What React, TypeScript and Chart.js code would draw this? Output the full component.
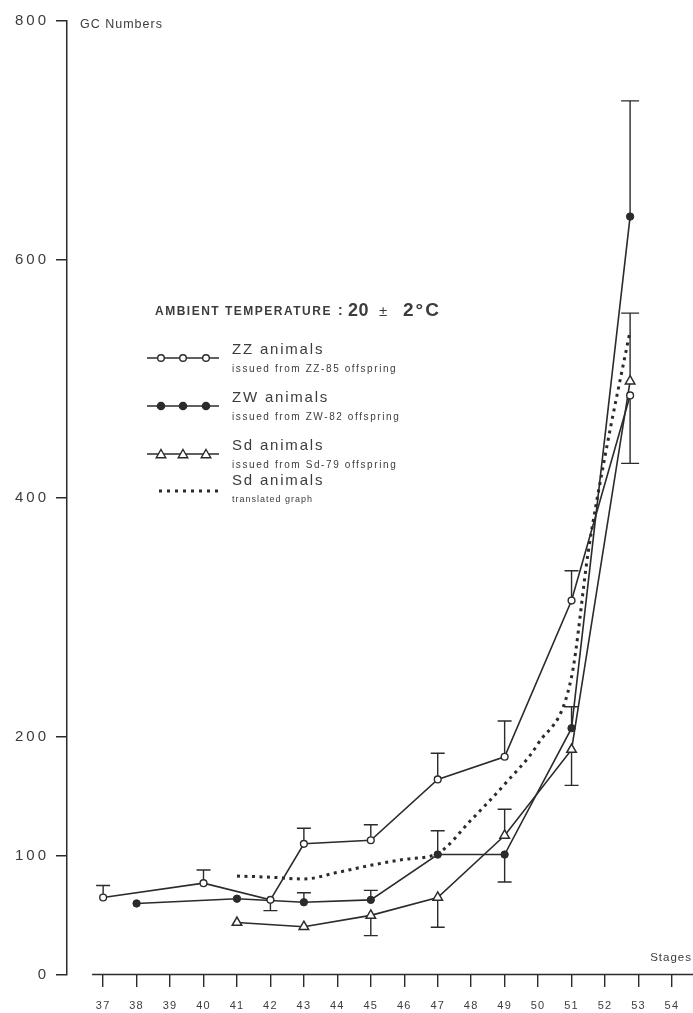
import { useEffect, useRef } from 'react';
import { Chart, registerables } from 'chart.js';

Chart.register(...registerables);

// ---- data ----
const stageTicks = [37, 38, 39, 40, 41, 42, 43, 44, 45, 46, 47, 48, 49, 50, 51, 52, 53, 54];
const gcTicks = [0, 100, 200, 400, 600, 800];

const zzStages = [37, 40, 42, 43, 45, 47, 49, 51, 52.75];
const zzValues = [65, 77, 63, 110, 113, 164, 183, 314, 486];
const zzErrors = [10, 11, -9, 13, 13, 22, 30, 25, -57];

const zwStages = [38, 41, 43, 45, 47, 49, 51, 52.75];
const zwValues = [60, 64, 61, 63, 101, 101, 207, 636];
const zwErrors = [0, 0, 8, 8, 20, -23, 18, 97];

const sdStages = [41, 43, 45, 47, 49, 51, 52.75];
const sdValues = [44, 40.5, 50, 65, 117, 189, 498];
const sdErrors = [0, 0, -17, -25, 22, -30, 57];

const sdTransStages = [41, 42, 43, 44, 45, 46, 47, 48, 49, 50, 51, 51.5, 52, 52.75];
const sdTransValues = [83, 82, 80.5, 86, 92, 97, 102, 130, 160, 194, 250, 355, 435, 540];

const INK = '#2b2b2b';
const TEXT = '#3c3c3c';
const FONT = "'Liberation Sans', Arial, Helvetica, sans-serif";

const toPoints = (xs: number[], ys: number[]) => xs.map((x, i) => ({ x, y: ys[i] }));

const errorSets = [
  { stages: zzStages, values: zzValues, errors: zzErrors },
  { stages: zwStages, values: zwValues, errors: zwErrors },
  { stages: sdStages, values: sdValues, errors: sdErrors },
];

const legendRows = [
  { title: 'ZZ animals', sub: 'issued from ZZ-85 offspring', kind: 'open' },
  { title: 'ZW animals', sub: 'issued from ZW-82 offspring', kind: 'filled' },
  { title: 'Sd animals', sub: 'issued from Sd-79 offspring', kind: 'triangle' },
  { title: 'Sd animals', sub: 'translated graph', kind: 'dots' },
];

function text(ctx: CanvasRenderingContext2D, s: string, x: number, y: number, font: string, ls: number, align: CanvasTextAlign = 'left') {
  ctx.save();
  ctx.font = font;
  (ctx as any).letterSpacing = ls + 'px';
  ctx.fillStyle = TEXT;
  ctx.textAlign = align;
  ctx.textBaseline = 'alphabetic';
  ctx.fillText(s, x, y);
  ctx.restore();
}

function marker(ctx: CanvasRenderingContext2D, kind: string, x: number, y: number) {
  ctx.save();
  ctx.strokeStyle = INK;
  ctx.lineWidth = 1.4;
  ctx.beginPath();
  if (kind === 'triangle') {
    const r = 5.5;
    ctx.moveTo(x, y - r);
    ctx.lineTo(x + r * 0.866, y + r / 2);
    ctx.lineTo(x - r * 0.866, y + r / 2);
    ctx.closePath();
    ctx.fillStyle = '#fff';
  } else {
    ctx.arc(x, y, kind === 'filled' ? 3.6 : 3.3, 0, Math.PI * 2);
    ctx.fillStyle = kind === 'filled' ? INK : '#fff';
  }
  ctx.fill();
  ctx.stroke();
  ctx.restore();
}

const decorPlugin = {
  id: 'decor',
  beforeDraw(chart: any) {
    (chart.ctx as any).letterSpacing = '3px';
  },
  beforeDatasetsDraw(chart: any) {
    const ctx = chart.ctx as CanvasRenderingContext2D;
    const xs = chart.scales.x;
    const ys = chart.scales.y;
    ctx.save();
    // x axis line (separate from the y axis)
    ctx.strokeStyle = INK;
    ctx.lineWidth = 1.5;
    ctx.beginPath();
    ctx.moveTo(xs.getPixelForValue(36.67), chart.chartArea.bottom - 0.5);
    ctx.lineTo(chart.width, chart.chartArea.bottom - 0.5);
    ctx.stroke();
    // error bars
    ctx.lineWidth = 1.4;
    errorSets.forEach((s) => {
      s.errors.forEach((e, i) => {
        if (!e) return;
        const px = xs.getPixelForValue(s.stages[i]);
        const p0 = ys.getPixelForValue(s.values[i]);
        const p1 = ys.getPixelForValue(s.values[i] + e);
        const half = s.stages[i] > 52 ? 9 : 7;
        ctx.beginPath();
        ctx.moveTo(px, p0);
        ctx.lineTo(px, p1);
        ctx.moveTo(px - half, p1);
        ctx.lineTo(px + half, p1);
        ctx.stroke();
      });
    });
    ctx.restore();
  },
  afterDatasetsDraw(chart: any) {
    (chart.ctx as any).letterSpacing = '1.2px';
  },
  afterDraw(chart: any) {
    const ctx = chart.ctx as CanvasRenderingContext2D;
    (ctx as any).letterSpacing = '0px';
    text(ctx, 'GC Numbers', 80, 28, `12.5px ${FONT}`, 1);
    text(ctx, 'Stages', 692, 961, `11.5px ${FONT}`, 1, 'right');

    // legend heading
    text(ctx, 'AMBIENT TEMPERATURE', 155, 315, `bold 12px ${FONT}`, 1.5);
    text(ctx, ':', 338, 315, `bold 14px ${FONT}`, 0);
    text(ctx, '20', 348, 316, `bold 18px ${FONT}`, 0.5);
    text(ctx, '\u00b1', 379, 316, `15px ${FONT}`, 0);
    text(ctx, '2\u00b0C', 403, 316, `bold 19px ${FONT}`, 2);

    const lineYs = [358, 406, 454, 491];
    legendRows.forEach((r, i) => {
      const ly = lineYs[i];
      ctx.save();
      ctx.strokeStyle = INK;
      if (r.kind === 'dots') {
        ctx.lineWidth = 3;
        ctx.setLineDash([3, 5]);
        ctx.beginPath();
        ctx.moveTo(159, ly);
        ctx.lineTo(220, ly);
        ctx.stroke();
      } else {
        ctx.lineWidth = 1.5;
        ctx.beginPath();
        ctx.moveTo(147, ly);
        ctx.lineTo(219, ly);
        ctx.stroke();
      }
      ctx.restore();
      if (r.kind !== 'dots') {
        [161, 183, 206].forEach((mx) => marker(ctx, r.kind, mx, ly + (r.kind === 'triangle' ? 1 : 0)));
      }
      const titleY = r.kind === 'dots' ? ly - 6 : ly - 4;
      text(ctx, r.title, 232, titleY, `15px ${FONT}`, 1.8);
      text(ctx, r.sub, 232, titleY + (r.kind === 'dots' ? 17 : 18), r.kind === 'dots' ? `9px ${FONT}` : `10px ${FONT}`, r.kind === 'dots' ? 1 : 1.6);
    });
  },
};

export default function App() {
  const ref = useRef<HTMLCanvasElement | null>(null);

  useEffect(() => {
    if (!ref.current) return;
    const chart = new Chart(ref.current, {
      type: 'line',
      data: {
        datasets: [
          {
            label: 'ZZ animals',
            data: toPoints(zzStages, zzValues),
            borderColor: INK,
            borderWidth: 1.6,
            pointStyle: 'circle',
            pointRadius: 3.4,
            pointBorderWidth: 1.4,
            pointBackgroundColor: '#fff',
            pointBorderColor: INK,
            tension: 0,
          },
          {
            label: 'ZW animals',
            data: toPoints(zwStages, zwValues),
            borderColor: INK,
            borderWidth: 1.6,
            pointStyle: 'circle',
            pointRadius: 3.7,
            pointBorderWidth: 1,
            pointBackgroundColor: INK,
            pointBorderColor: INK,
            tension: 0,
          },
          {
            label: 'Sd animals',
            data: toPoints(sdStages, sdValues),
            borderColor: INK,
            borderWidth: 1.6,
            pointStyle: 'triangle',
            pointRadius: 5.5,
            pointBorderWidth: 1.5,
            pointBackgroundColor: '#fff',
            pointBorderColor: INK,
            tension: 0,
          },
          {
            label: 'Sd animals (translated graph)',
            data: toPoints(sdTransStages, sdTransValues),
            borderColor: INK,
            borderWidth: 3,
            borderDash: [3, 4.5],
            pointRadius: 0,
            cubicInterpolationMode: 'monotone',
          },
        ],
      },
      options: {
        responsive: false,
        maintainAspectRatio: false,
        devicePixelRatio: 1,
        animation: false,
        events: [],
        layout: { autoPadding: false, padding: { top: 21, left: 0, right: 0, bottom: 0 } },
        font: { family: FONT },
        plugins: { legend: { display: false }, tooltip: { enabled: false } },
        scales: {
          x: {
            type: 'linear',
            min: 35.92,
            max: 54.63,
            afterBuildTicks: (s: any) => {
              s.ticks = stageTicks.map((v) => ({ value: v }));
            },
            afterFit: (s: any) => {
              s.height = 38;
              s.paddingLeft = 0;
              s.paddingRight = 0;
            },
            border: { display: false },
            grid: { drawOnChartArea: false, drawTicks: true, tickLength: 12, color: INK, lineWidth: 1.4 },
            ticks: {
              z: 1,
              padding: 12,
              color: TEXT,
              font: { size: 11, family: FONT },
              maxRotation: 0,
              autoSkip: false,
              callback: (v: any) => String(v),
            },
          },
          y: {
            type: 'linear',
            min: 0,
            max: 800,
            afterBuildTicks: (s: any) => {
              s.ticks = gcTicks.map((v) => ({ value: v }));
            },
            afterFit: (s: any) => {
              s.width = 67;
              s.paddingTop = 0;
              s.paddingBottom = 0;
            },
            border: { display: true, color: INK, width: 1.5 },
            grid: { drawOnChartArea: false, drawTicks: true, tickLength: 11, color: INK, lineWidth: 1.5 },
            ticks: {
              z: 0,
              padding: 7,
              color: TEXT,
              font: { size: 15, family: FONT },
              autoSkip: false,
              callback: (v: any) => String(v),
            },
          },
        },
      } as any,
      plugins: [decorPlugin],
    });
    return () => chart.destroy();
  }, []);

  return (
    <div style={{ position: 'fixed', left: 0, top: 0, width: 693, height: 1013, background: '#fff' }}>
      <canvas ref={ref} width={693} height={1013} style={{ display: 'block', width: 693, height: 1013 }} />
    </div>
  );
}
